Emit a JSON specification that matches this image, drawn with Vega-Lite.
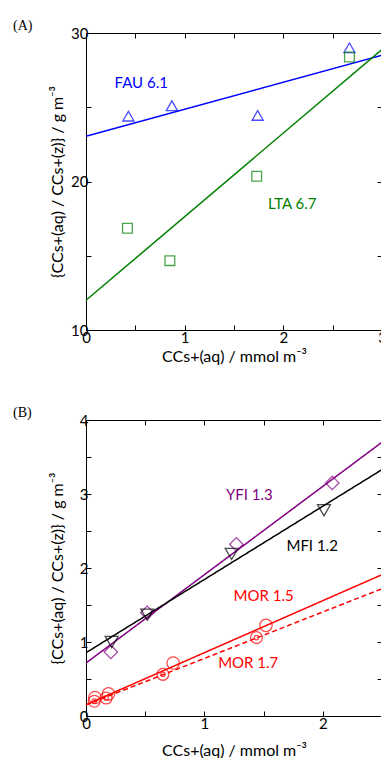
{
  "$schema": "https://vega.github.io/schema/vega-lite/v6.json",
  "padding": {"left": 12, "top": 18, "right": 0, "bottom": 0},
  "spacing": 40,
  "datasets": {
    "aLines": [
      {"series": "FAU", "x": 0, "y": 23.05},
      {"series": "FAU", "x": 3, "y": 28.5},
      {"series": "LTA", "x": 0, "y": 12.0},
      {"series": "LTA", "x": 3, "y": 28.9}
    ],
    "aPoints": [
      {"series": "FAU", "x": 0.43, "y": 24.4},
      {"series": "FAU", "x": 0.87, "y": 25.1},
      {"series": "FAU", "x": 1.74, "y": 24.45},
      {"series": "FAU", "x": 2.67, "y": 29.0},
      {"series": "LTA", "x": 0.42, "y": 16.85},
      {"series": "LTA", "x": 0.85, "y": 14.67},
      {"series": "LTA", "x": 1.73, "y": 20.35},
      {"series": "LTA", "x": 2.67, "y": 28.38}
    ],
    "aLabels": [
      {"series": "FAU", "label": "FAU 6.1", "x": 0.56, "y": 26.65},
      {"series": "LTA", "label": "LTA 6.7", "x": 2.09, "y": 18.5}
    ],
    "bLines": [
      {"series": "YFI", "x": 0, "y": 0.716},
      {"series": "YFI", "x": 2.5, "y": 3.70},
      {"series": "MFI", "x": 0, "y": 0.855},
      {"series": "MFI", "x": 2.5, "y": 3.33},
      {"series": "MOR 1.5", "x": 0, "y": 0.153},
      {"series": "MOR 1.5", "x": 2.5, "y": 1.91},
      {"series": "MOR 1.7", "x": 0, "y": 0.15},
      {"series": "MOR 1.7", "x": 2.5, "y": 1.72}
    ],
    "bPoints": [
      {"series": "YFI", "x": 0.21, "y": 0.865},
      {"series": "YFI", "x": 0.517, "y": 1.395},
      {"series": "YFI", "x": 1.27, "y": 2.32},
      {"series": "YFI", "x": 2.08, "y": 3.15},
      {"series": "MFI", "x": 0.217, "y": 1.0},
      {"series": "MFI", "x": 0.517, "y": 1.37},
      {"series": "MFI", "x": 1.23, "y": 2.19},
      {"series": "MFI", "x": 2.01, "y": 2.78},
      {"series": "MOR 1.5", "x": 0.076, "y": 0.25},
      {"series": "MOR 1.5", "x": 0.19, "y": 0.30},
      {"series": "MOR 1.5", "x": 0.736, "y": 0.716},
      {"series": "MOR 1.5", "x": 1.52, "y": 1.225},
      {"series": "MOR 1.7", "x": 0.07, "y": 0.20},
      {"series": "MOR 1.7", "x": 0.17, "y": 0.243},
      {"series": "MOR 1.7", "x": 0.65, "y": 0.563},
      {"series": "MOR 1.7", "x": 1.44, "y": 1.06}
    ],
    "bLabels": [
      {"series": "YFI", "label": "YFI 1.3", "x": 1.38, "y": 2.99},
      {"series": "MFI", "label": "MFI 1.2", "x": 1.91, "y": 2.30},
      {"series": "MOR 1.5", "label": "MOR 1.5", "x": 1.50, "y": 1.62},
      {"series": "MOR 1.7", "label": "MOR 1.7", "x": 1.37, "y": 0.71}
    ]
  },
  "vconcat": [
    {
      "width": 296,
      "height": 297,
      "title": {"text": "(A)", "anchor": "start", "frame": "group", "dx": -73, "offset": -7, "font": "Liberation Serif", "fontSize": 14, "fontWeight": "normal", "color": "black"},
      "layer": [
        {
          "data": {"name": "aLines"},
          "mark": {"type": "line", "strokeWidth": 1.5},
          "encoding": {
            "x": {"field": "x", "type": "quantitative", "scale": {"domain": [0, 3], "nice": false},
                  "axis": {"orient": "bottom", "values": [0, 0.5, 1, 1.5, 2, 2.5, 3], "labelExpr": "datum.value % 1 === 0 ? '' + datum.value : ''", "title": "CCs+(aq) / mmol m⁻³", "titleY": 18, "titleBaseline": "top"}},
            "y": {"field": "y", "type": "quantitative", "scale": {"domain": [10, 30], "nice": false, "zero": false},
                  "axis": {"orient": "left", "values": [10, 15, 20, 25, 30], "labelExpr": "datum.value % 10 === 0 ? '' + datum.value : ''", "title": "{CCs+(aq) / CCs+(z)} / g m⁻³", "titleX": -21, "titleY": 148.5}},
            "color": {"field": "series", "type": "nominal", "scale": {"domain": ["FAU", "LTA"], "range": ["#0000ff", "#008000"]}, "legend": null}
          }
        },
        {
          "data": {"name": "aPoints"},
          "mark": {"type": "point", "filled": false, "strokeWidth": 1.3},
          "encoding": {
            "x": {"field": "x", "type": "quantitative", "axis": null},
            "y": {"field": "y", "type": "quantitative", "axis": null},
            "color": {"field": "series", "type": "nominal", "legend": null},
            "shape": {"field": "series", "type": "nominal", "scale": {"domain": ["FAU", "LTA"], "range": ["triangle-up", "square"]}, "legend": null},
            "size": {"field": "series", "type": "nominal", "scale": {"domain": ["FAU", "LTA"], "range": [125, 95]}, "legend": null}
          }
        },
        {
          "data": {"name": "aLabels"},
          "mark": {"type": "text", "font": "Lato", "fontSize": 15},
          "encoding": {
            "x": {"field": "x", "type": "quantitative", "axis": null},
            "y": {"field": "y", "type": "quantitative", "axis": null},
            "text": {"field": "label"},
            "color": {"field": "series", "type": "nominal", "legend": null}
          }
        },
        {
          "data": {"name": "aLines"},
          "mark": {"type": "point", "opacity": 0},
          "encoding": {
            "x": {"field": "x", "type": "quantitative", "axis": {"orient": "top", "values": [0, 0.5, 1, 1.5, 2, 2.5, 3], "labels": false, "title": null}},
            "y": {"field": "y", "type": "quantitative", "axis": {"orient": "right", "values": [10, 15, 20, 25, 30], "labels": false, "title": null}}
          }
        }
      ],
      "resolve": {"axis": {"x": "independent", "y": "independent"}}
    },
    {
      "width": 296,
      "height": 296,
      "title": {"text": "(B)", "anchor": "start", "frame": "group", "dx": -73, "offset": -7, "font": "Liberation Serif", "fontSize": 14, "fontWeight": "normal", "color": "black"},
      "layer": [
        {
          "data": {"name": "bLines"},
          "mark": {"type": "line", "strokeWidth": 1.5},
          "encoding": {
            "x": {"field": "x", "type": "quantitative", "scale": {"domain": [0, 2.5], "nice": false},
                  "axis": {"orient": "bottom", "values": [0, 0.5, 1, 1.5, 2, 2.5], "labelExpr": "datum.value % 1 === 0 ? '' + datum.value : ''", "title": "CCs+(aq) / mmol m⁻³", "titleY": 26, "titleBaseline": "top"}},
            "y": {"field": "y", "type": "quantitative", "scale": {"domain": [0, 4], "nice": false},
                  "axis": {"orient": "left", "values": [0, 0.5, 1, 1.5, 2, 2.5, 3, 3.5, 4], "labelExpr": "datum.value % 1 === 0 ? '' + datum.value : ''", "title": "{CCs+(aq) / CCs+(z)} / g m⁻³", "titleX": -21, "titleY": 148}},
            "color": {"field": "series", "type": "nominal", "scale": {"domain": ["YFI", "MFI", "MOR 1.5", "MOR 1.7"], "range": ["#800080", "#000000", "#ff0000", "#ff0000"]}, "legend": null},
            "strokeDash": {"field": "series", "type": "nominal", "scale": {"domain": ["YFI", "MFI", "MOR 1.5", "MOR 1.7"], "range": [[1, 0], [1, 0], [1, 0], [5, 3]]}, "legend": null}
          }
        },
        {
          "data": {"name": "bPoints"},
          "mark": {"type": "point", "filled": false, "strokeWidth": 1.3},
          "encoding": {
            "x": {"field": "x", "type": "quantitative", "axis": null},
            "y": {"field": "y", "type": "quantitative", "axis": null},
            "color": {"field": "series", "type": "nominal", "legend": null},
            "shape": {"field": "series", "type": "nominal", "scale": {"domain": ["YFI", "MFI", "MOR 1.5", "MOR 1.7"], "range": ["diamond", "triangle-down", "circle", "circle"]}, "legend": null},
            "size": {"field": "series", "type": "nominal", "scale": {"domain": ["YFI", "MFI", "MOR 1.5", "MOR 1.7"], "range": [180, 140, 100, 100]}, "legend": null}
          }
        },
        {
          "data": {"name": "bPoints"},
          "transform": [{"filter": "datum.series === 'MOR 1.7'"}],
          "mark": {"type": "point", "shape": "circle", "filled": false, "strokeWidth": 1.2, "size": 20},
          "encoding": {
            "x": {"field": "x", "type": "quantitative", "axis": null},
            "y": {"field": "y", "type": "quantitative", "axis": null},
            "color": {"field": "series", "type": "nominal", "legend": null}
          }
        },
        {
          "data": {"name": "bLabels"},
          "mark": {"type": "text", "font": "Lato", "fontSize": 15},
          "encoding": {
            "x": {"field": "x", "type": "quantitative", "axis": null},
            "y": {"field": "y", "type": "quantitative", "axis": null},
            "text": {"field": "label"},
            "color": {"field": "series", "type": "nominal", "legend": null}
          }
        },
        {
          "data": {"name": "bLines"},
          "mark": {"type": "point", "opacity": 0},
          "encoding": {
            "x": {"field": "x", "type": "quantitative", "axis": {"orient": "top", "values": [0, 0.5, 1, 1.5, 2, 2.5], "labels": false, "title": null}},
            "y": {"field": "y", "type": "quantitative", "axis": {"orient": "right", "values": [0, 0.5, 1, 1.5, 2, 2.5, 3, 3.5, 4], "labels": false, "title": null}}
          }
        }
      ],
      "resolve": {"axis": {"x": "independent", "y": "independent"}}
    }
  ],
  "resolve": {"scale": {"x": "independent", "y": "independent", "color": "independent", "shape": "independent", "size": "independent", "strokeDash": "independent"}},
  "config": {
    "background": "white",
    "view": {"stroke": "black", "strokeWidth": 1},
    "axis": {
      "grid": false,
      "domainColor": "black",
      "tickColor": "black",
      "labelColor": "black",
      "titleColor": "black",
      "labelFont": "Lato",
      "titleFont": "Lato",
      "labelFontSize": 15,
      "titleFontSize": 16,
      "titleFontWeight": "normal",
      "tickSize": -5,
      "labelFlush": false,
      "labelOverlap": false
    },
    "axisX": {"labelPadding": 5},
    "axisY": {"labelPadding": 3}
  }
}
